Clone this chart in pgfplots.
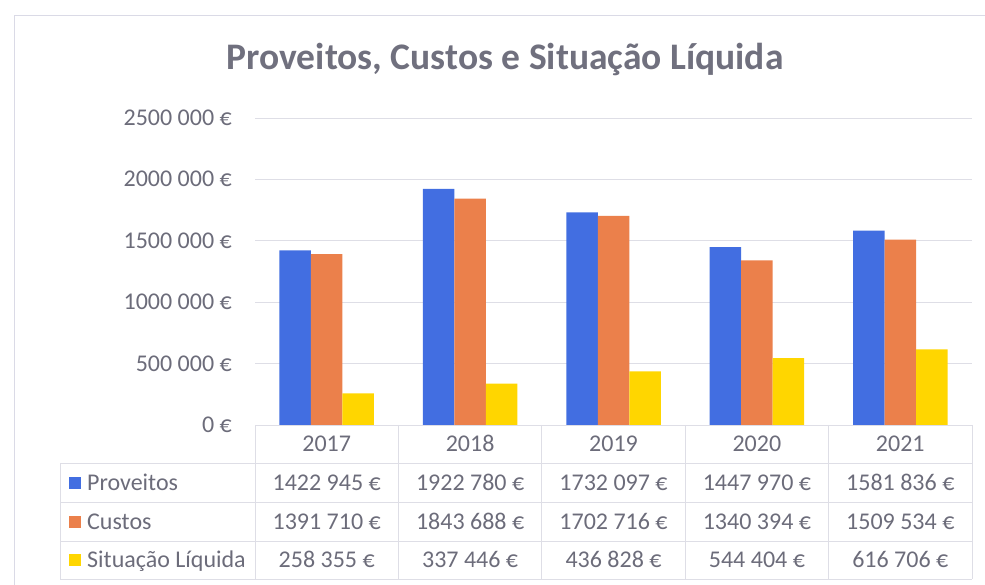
\documentclass[border=0pt]{standalone}
\usepackage{pgfplots}
\pgfplotsset{compat=1.18}
\usepackage{fontspec}
\setmainfont{Carlito}
\definecolor{cblue}{RGB}{66,110,225}
\definecolor{corange}{RGB}{235,128,75}
\definecolor{cyellow}{RGB}{255,214,0}
\definecolor{ctext}{RGB}{108,108,122}
\definecolor{ctitle}{RGB}{112,112,126}
\definecolor{gridc}{RGB}{222,222,230}
\definecolor{framec}{RGB}{218,218,230}
\begin{document}
\begin{tikzpicture}[x=1pt,y=1pt, fixh/.style={text height=15pt, text depth=0pt}]
\path[use as bounding box] (0,0) rectangle (985,585);
\draw[framec, line width=0.8pt] (14,0) -- (14,570) -- (985,570);
\node[font=\fontsize{37.5}{40}\selectfont\bfseries, text=ctitle] at (505,525) {Proveitos, Custos e Situação Líquida};
\begin{axis}[
  at={(255pt,160pt)}, anchor=south west, scale only axis,
  width=717pt, height=307pt,
  xmin=-0.5, xmax=4.5, ymin=0, ymax=2500000,
  scaled y ticks=false,
  ybar=0pt, bar width=31.5pt,
  axis line style={draw=none}, major tick length=0pt,
  ymajorgrids, grid style={gridc, line width=0.8pt},
  ytick={0,500000,1000000,1500000,2000000,2500000},
  yticklabels={0 €, 500 000 €, 1000 000 €, 1500 000 €, 2000 000 €, 2500 000 €},
  yticklabel style={font=\fontsize{24}{26}\selectfont, text=ctext, inner sep=0pt, anchor=east, xshift=-23pt, text height=15pt, text depth=0pt},
  xtick={0,1,2,3,4},
  xticklabels={2017,2018,2019,2020,2021},
  xticklabel style={font=\fontsize{24}{26}\selectfont, text=ctext, inner sep=0pt, anchor=center, yshift=-19pt, text height=15pt, text depth=0pt},
  clip=false,
]
\addplot[fill=cblue, draw=none] coordinates {(0,1422945) (1,1922780) (2,1732097) (3,1447970) (4,1581836)};
\addplot[fill=corange, draw=none] coordinates {(0,1391710) (1,1843688) (2,1702716) (3,1340394) (4,1509534)};
\addplot[fill=cyellow, draw=none] coordinates {(0,258355) (1,337446) (2,436828) (3,544404) (4,616706)};
\end{axis}
% data table grid
\begin{scope}[gridc, line width=0.9pt]
\draw (255,160) -- (972,160);
\draw (60,122) -- (972,122);
\draw (60,83) -- (972,83);
\draw (60,44) -- (972,44);
\draw (60,6) -- (972,6);
\draw (60,122) -- (60,6);
\foreach \x in {255,398.4,541.8,685.2,828.6,972} {\draw (\x,160) -- (\x,6);}
\end{scope}
\begin{scope}[font=\fontsize{24}{26}\selectfont, text=ctext, every node/.style={fixh, inner sep=0pt}]
\fill[cblue] (69,96) rectangle (81,108);
\fill[corange] (69,57) rectangle (81,69);
\fill[cyellow] (69,19) rectangle (81,31);
\node[anchor=west] at (87,102) {Proveitos};
\node[anchor=west] at (87,63) {Custos};
\node[anchor=west] at (87,25) {Situação Líquida};
\node at (326.7,102) {1422 945 €};
\node at (470.1,102) {1922 780 €};
\node at (613.5,102) {1732 097 €};
\node at (756.9,102) {1447 970 €};
\node at (900.3,102) {1581 836 €};
\node at (326.7,63) {1391 710 €};
\node at (470.1,63) {1843 688 €};
\node at (613.5,63) {1702 716 €};
\node at (756.9,63) {1340 394 €};
\node at (900.3,63) {1509 534 €};
\node at (326.7,25) {258 355 €};
\node at (470.1,25) {337 446 €};
\node at (613.5,25) {436 828 €};
\node at (756.9,25) {544 404 €};
\node at (900.3,25) {616 706 €};
\end{scope}
\end{tikzpicture}
\end{document}
